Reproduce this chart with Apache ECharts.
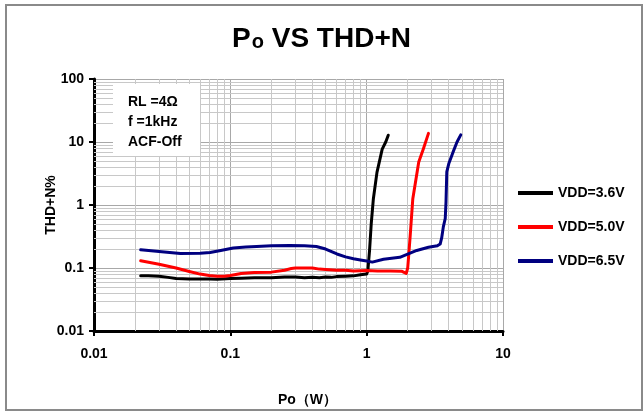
<!DOCTYPE html>
<html>
<head>
<meta charset="utf-8">
<script src="https://cdn.jsdelivr.net/npm/echarts@6/dist/echarts.min.js"></script>
<style>
html,body{margin:0;padding:0;background:#fff;}
#chart{width:643px;height:412px;}
</style>
</head>
<body>
<div id="chart"></div>
<script>
// ---- Data ----
const seriesNames = ['VDD=3.6V', 'VDD=5.0V', 'VDD=6.5V'];
const blackX = [0.022,0.025,0.03,0.035,0.04,0.05,0.06,0.07,0.08,0.1,0.12,0.15,0.2,0.25,0.3,0.35,0.4,0.45,0.5,0.55,0.6,0.7,0.8,0.9,1.0,1.02,1.05,1.08,1.12,1.19,1.3,1.38,1.44];
const blackY = [0.075,0.075,0.074,0.071,0.068,0.067,0.067,0.067,0.066,0.068,0.069,0.07,0.07,0.072,0.072,0.07,0.071,0.07,0.072,0.071,0.073,0.074,0.075,0.078,0.08,0.09,0.19,0.5,1.26,3.3,7.7,10,12.8];
const redX = [0.022,0.03,0.04,0.05,0.06,0.07,0.08,0.09,0.1,0.12,0.15,0.2,0.25,0.28,0.3,0.4,0.45,0.5,0.6,0.7,0.8,1.0,1.2,1.5,1.8,1.95,2.0,2.03,2.08,2.18,2.41,2.6,2.84];
const redY = [0.13,0.115,0.1,0.088,0.08,0.076,0.074,0.074,0.076,0.082,0.085,0.086,0.092,0.098,0.1,0.1,0.096,0.095,0.092,0.092,0.09,0.091,0.09,0.09,0.089,0.082,0.1,0.15,0.3,1.26,4.8,7.7,13.7];
const blueX = [0.022,0.03,0.043,0.06,0.071,0.085,0.105,0.13,0.156,0.2,0.273,0.35,0.428,0.5,0.605,0.7,0.8,0.9,1.0,1.1,1.33,1.75,2.33,2.84,3.3,3.46,3.55,3.65,3.77,3.82,3.87,4.0,4.3,4.6,4.9];
const blueY = [0.194,0.183,0.17,0.172,0.176,0.19,0.208,0.215,0.22,0.225,0.227,0.225,0.219,0.2,0.167,0.15,0.14,0.134,0.129,0.124,0.138,0.148,0.19,0.213,0.225,0.24,0.3,0.45,0.61,1.13,3.35,4.5,6.9,10,13];
const xTicks = [0.01, 0.1, 1, 10];
const yTicks = [0.01, 0.1, 1, 10, 100];
const notes = ['RL =4\u03A9', 'f =1kHz', 'ACF-Off'];

const FONT = 'Liberation Sans, Arial, sans-serif';
const colors = ['#000000', '#FF0000', '#000080'];

function pairs(xs, ys){ return xs.map((x,i)=>[x, ys[i]]); }

// minor log grid values (2..9 per decade)
const minorX = [], minorY = [];
for (let d = 0; d < xTicks.length - 1; d++) for (let k = 2; k <= 9; k++) minorX.push(+(xTicks[d]*k).toPrecision(3));
for (let d = 0; d < yTicks.length - 1; d++) for (let k = 2; k <= 9; k++) minorY.push(+(yTicks[d]*k).toPrecision(3));

const chart = echarts.init(document.getElementById('chart'), null, {renderer:'canvas'});
const lineSeries = [[blackX,blackY],[redX,redY],[blueX,blueY]].map((d,i)=>({
  name: seriesNames[i], type:'line', data: pairs(d[0], d[1]),
  symbol:'none', smooth:false, z:5,
  lineStyle:{color:colors[i], width:3, cap:'round', join:'round'},
  itemStyle:{color:colors[i]}
}));

chart.setOption({
  animation:false,
  backgroundColor:'#fff',
  title:{
    text:'{a|P}{b|o}{a| VS THD+N}',
    left:'center', top:20,
    textStyle:{ rich:{
      a:{fontSize:28, fontWeight:'bold', fontFamily:FONT, color:'#000'},
      b:{fontSize:20, fontWeight:'bold', fontFamily:FONT, color:'#000', padding:[6,0,0,1]}
    }}
  },
  legend:{
    data:seriesNames, orient:'vertical', left:518, top:186, padding:0,
    itemWidth:35, itemHeight:4, itemGap:20, icon:'rect',
    textStyle:{fontFamily:FONT, fontSize:14, fontWeight:'bold', color:'#000'}
  },
  grid:{left:94, right:140, top:79, bottom:78},
  xAxis:{
    type:'log', logBase:10, min:0.01, max:10,
    name:'Po\uFF08W\uFF09', nameLocation:'middle', nameGap:62,
    nameTextStyle:{fontFamily:FONT, fontSize:14, fontWeight:'bold', color:'#000', padding:[0,0,0,18]},
    axisLine:{show:true, onZero:false, lineStyle:{color:'#000', width:3}},
    axisTick:{show:true, inside:false, length:5, lineStyle:{color:'#000', width:2}},
    axisLabel:{fontFamily:FONT, fontSize:14, fontWeight:'bold', color:'#000', margin:16,
      formatter:(v)=>String(v)},
    splitLine:{show:true, lineStyle:{color:'#a8a8a8', width:1}}
  },
  yAxis:{
    type:'log', logBase:10, min:0.01, max:100,
    name:'THD+N%', nameLocation:'middle', nameGap:36, nameRotate:90, nameMoveOverlap:false,
    nameTextStyle:{fontFamily:FONT, fontSize:14, fontWeight:'bold', color:'#000'},
    axisLine:{show:true, onZero:false, lineStyle:{color:'#000', width:3}},
    axisTick:{show:true, inside:false, length:5, lineStyle:{color:'#000', width:2}},
    axisLabel:{fontFamily:FONT, fontSize:14, fontWeight:'bold', color:'#000', margin:10,
      formatter:(v)=>String(v)},
    splitLine:{show:true, lineStyle:{color:'#a8a8a8', width:1}}
  },
  series:[
    {
      name:'grid-minor', type:'line', data:[], z:1, silent:true,
      markLine:{
        silent:true, symbol:'none', animation:false,
        label:{show:false},
        lineStyle:{color:'#c8c8c8', width:1, type:'solid'},
        emphasis:{disabled:true},
        data: minorX.map(v=>({xAxis:v})).concat(minorY.map(v=>({yAxis:v})))
      }
    }
  ].concat(lineSeries),
  graphic:[
    {type:'rect', z:100, shape:{x:6, y:5, width:636, height:405},
      style:{fill:'none', stroke:'#8a8a8a', lineWidth:2}},
    {type:'rect', z:100, shape:{x:113, y:84, width:87, height:72}, style:{fill:'#fff'}},
    {type:'text', z:101, left:128, top:92,
      style:{text:notes.join('\n'), fontFamily:FONT, fontSize:14, fontWeight:'bold', fill:'#000', lineHeight:20}}
  ]
});
</script>
</body>
</html>
